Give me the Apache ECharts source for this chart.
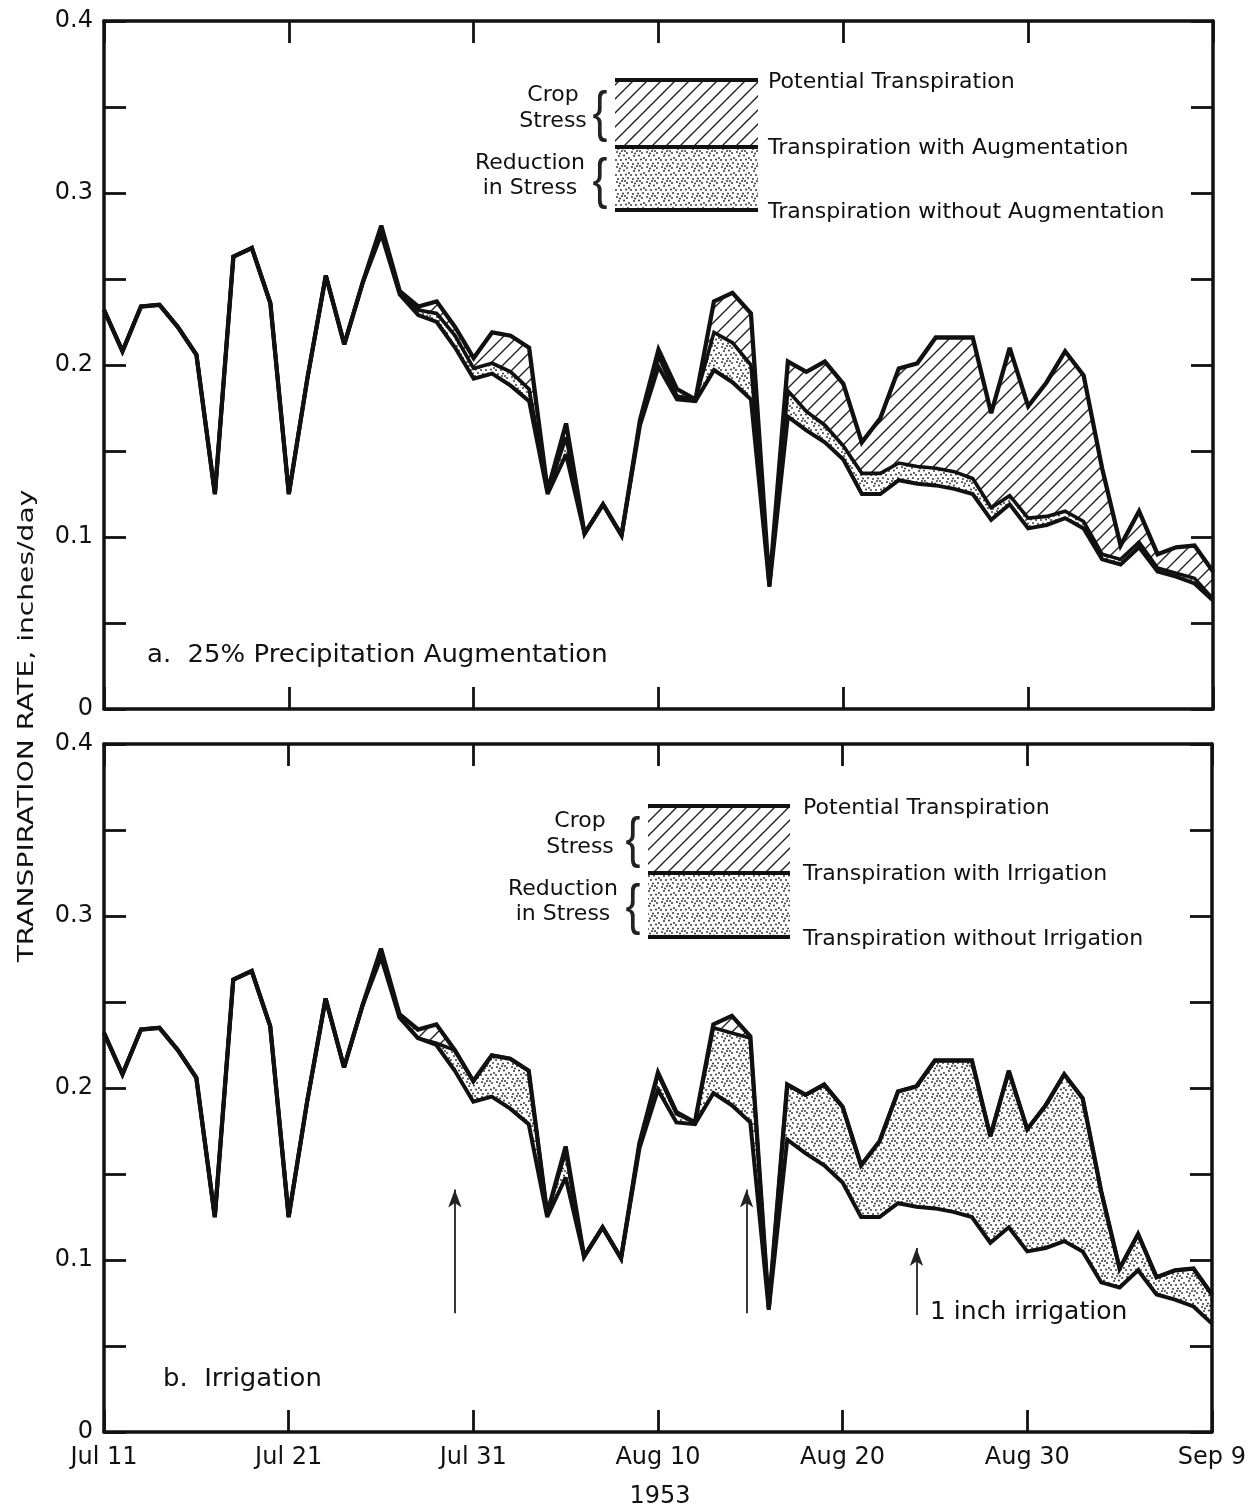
<!DOCTYPE html>
<html>
<head>
<meta charset="utf-8">
<script src="https://cdn.jsdelivr.net/npm/echarts@6/dist/echarts.min.js"></script>
<style>
html,body{margin:0;padding:0;background:#fff;}
#main{width:1249px;height:1511px;}
</style>
</head>
<body>
<div id="main"></div>
<script>
// day index 0 = Jul 11 ... 60 = Sep 9 (1953)
var tickLabels = ['Jul 11', 'Jul 21', 'Jul 31', 'Aug 10', 'Aug 20', 'Aug 30', 'Sep 9'];

var potential = [
  0.232, 0.208, 0.234, 0.235, 0.222, 0.206, 0.125, 0.263, 0.268, 0.236,
  0.125, 0.192, 0.252, 0.212, 0.248, 0.281, 0.243, 0.234, 0.237, 0.222,
  0.204, 0.219, 0.217, 0.210, 0.127, 0.166, 0.102, 0.119, 0.101, 0.168,
  0.209, 0.186, 0.180, 0.237, 0.242, 0.230, 0.072, 0.202, 0.196, 0.202,
  0.189, 0.155, 0.169, 0.198, 0.201, 0.216, 0.216, 0.216, 0.172, 0.210,
  0.176, 0.190, 0.208, 0.194, 0.140, 0.095, 0.115, 0.090, 0.094, 0.095,
  0.080
];
var withAug = [
  0.232, 0.208, 0.234, 0.235, 0.222, 0.206, 0.125, 0.263, 0.268, 0.236,
  0.125, 0.192, 0.252, 0.212, 0.248, 0.278, 0.242, 0.232, 0.230, 0.217,
  0.198, 0.201, 0.196, 0.186, 0.126, 0.158, 0.102, 0.119, 0.101, 0.167,
  0.205, 0.182, 0.180, 0.219, 0.213, 0.200, 0.072, 0.185, 0.173, 0.165,
  0.153, 0.137, 0.137, 0.143, 0.141, 0.140, 0.138, 0.134, 0.117, 0.124,
  0.111, 0.112, 0.115, 0.109, 0.090, 0.087, 0.097, 0.082, 0.079, 0.076,
  0.064
];
var withoutAug = [
  0.232, 0.208, 0.234, 0.235, 0.222, 0.206, 0.125, 0.263, 0.268, 0.236,
  0.125, 0.192, 0.252, 0.212, 0.248, 0.276, 0.241, 0.229, 0.225, 0.210,
  0.192, 0.195, 0.188, 0.179, 0.125, 0.148, 0.102, 0.119, 0.101, 0.165,
  0.199, 0.180, 0.179, 0.197, 0.190, 0.180, 0.071, 0.170, 0.162, 0.155,
  0.145, 0.125, 0.125, 0.133, 0.131, 0.130, 0.128, 0.125, 0.110, 0.119,
  0.105, 0.107, 0.111, 0.105, 0.087, 0.084, 0.094, 0.080, 0.077, 0.073,
  0.063
];
var withIrr = [
  0.232, 0.208, 0.234, 0.235, 0.222, 0.206, 0.125, 0.263, 0.268, 0.236,
  0.125, 0.192, 0.252, 0.212, 0.248, 0.278, 0.241, 0.229, 0.226, 0.222,
  0.204, 0.219, 0.217, 0.210, 0.127, 0.163, 0.102, 0.119, 0.101, 0.168,
  0.208, 0.185, 0.180, 0.235, 0.232, 0.229, 0.072, 0.202, 0.196, 0.202,
  0.189, 0.155, 0.169, 0.198, 0.201, 0.216, 0.216, 0.216, 0.172, 0.210,
  0.176, 0.190, 0.208, 0.194, 0.140, 0.095, 0.115, 0.090, 0.094, 0.095,
  0.080
];
// irrigation arrows: day index, arrow foot, arrow tip
var irrigationDays = [19, 34.8, 44];
var arrowFoot = [0.069, 0.069, 0.068];
var arrowTip = [0.141, 0.141, 0.107];

var FONT = 'DejaVu Sans';

function pairs(arr) {
  return arr.map(function (v, i) { return [i, v]; });
}

// fill patterns
function hatchPattern() {
  var c = document.createElement('canvas');
  var s = 14;
  c.width = s; c.height = s;
  var g = c.getContext('2d');
  g.fillStyle = '#fff';
  g.fillRect(0, 0, s, s);
  g.strokeStyle = '#222';
  g.lineWidth = 1.4;
  g.beginPath();
  g.moveTo(-2, s + 2); g.lineTo(s + 2, -2);
  g.moveTo(-2, 2); g.lineTo(2, -2);
  g.moveTo(s - 2, s + 2); g.lineTo(s + 2, s - 2);
  g.stroke();
  return c;
}
function stipplePattern() {
  var c = document.createElement('canvas');
  var s = 15;
  c.width = s; c.height = s;
  var g = c.getContext('2d');
  g.fillStyle = '#fff';
  g.fillRect(0, 0, s, s);
  g.fillStyle = '#2a2a2a';
  var dots = [[2, 2], [7, 1], [12, 3], [4, 6], [9, 5.5], [14, 8], [1, 10], [6, 10], [11, 9.5],
              [3, 14], [8, 13.5], [13, 13], [10, 1], [5, 3.5]];
  dots.forEach(function (d) {
    g.beginPath();
    g.arc(d[0], d[1], 0.95, 0, Math.PI * 2);
    g.fill();
  });
  return c;
}
var hatch = { image: hatchPattern(), repeat: 'repeat' };
var stipple = { image: stipplePattern(), repeat: 'repeat' };

var chart = echarts.init(document.getElementById('main'));

function xAxisFor(grid, pos, labels) {
  return {
    type: 'value', gridIndex: grid, position: pos, z: 10,
    min: 0, max: 60, interval: 10,
    axisLine: { show: true, onZero: false, lineStyle: { color: '#111', width: 3.5 } },
    axisTick: { show: true, inside: true, length: 22, lineStyle: { color: '#111', width: 2.8 } },
    axisLabel: {
      show: labels, margin: 14, color: '#111', fontSize: 24, fontFamily: FONT,
      formatter: function (v) { return tickLabels[Math.round(v / 10)] || ''; }
    },
    splitLine: { show: false }
  };
}
function yAxisFor(grid, pos, labels) {
  return {
    type: 'value', gridIndex: grid, position: pos, z: 10,
    min: 0, max: 0.4, interval: 0.05,
    axisLine: { show: true, onZero: false, lineStyle: { color: '#111', width: 3.5 } },
    axisTick: { show: true, inside: true, length: 22, lineStyle: { color: '#111', width: 2.8 } },
    axisLabel: {
      show: labels, margin: 11, color: '#111', fontSize: 24, fontFamily: FONT,
      formatter: function (v) {
        var r = Math.round(v * 100);
        if (r % 10 !== 0) return '';
        return r === 0 ? '0' : (r / 100).toFixed(1);
      }
    },
    splitLine: { show: false }
  };
}

// overlapping filled areas: hatch under the top line, stipple under the middle, white under the bottom
function areaSeries(xi, arr, fill, z) {
  return {
    type: 'line', xAxisIndex: xi, yAxisIndex: xi, data: pairs(arr), symbol: 'none', silent: true, z: z,
    lineStyle: { width: 0 }, areaStyle: { color: fill, opacity: 1, origin: 'start' }
  };
}
function blackLine(xi, arr, w) {
  return {
    type: 'line', xAxisIndex: xi, yAxisIndex: xi, data: pairs(arr), symbol: 'none', silent: true, z: 5,
    lineStyle: { color: '#111', width: w, join: 'miter', miterLimit: 3 }
  };
}

var arrowLines = irrigationDays.map(function (d, i) {
  return [{ coord: [d, arrowFoot[i]] }, { coord: [d, arrowTip[i]] }];
});

var series = [
  areaSeries(0, potential, hatch, 1),
  areaSeries(0, withAug, stipple, 2),
  areaSeries(0, withoutAug, '#fff', 3),
  blackLine(0, withoutAug, 4), blackLine(0, withAug, 3.6), blackLine(0, potential, 4.3),
  areaSeries(2, potential, hatch, 1),
  areaSeries(2, withIrr, stipple, 2),
  areaSeries(2, withoutAug, '#fff', 3),
  blackLine(2, withoutAug, 4), blackLine(2, withIrr, 3.6), blackLine(2, potential, 4.3)
];

series[series.length - 1].markLine = {
  silent: true, symbol: ['none', 'arrow'], symbolSize: [10, 18],
  label: { show: false },
  lineStyle: { color: '#222', width: 1.8, type: 'solid' },
  data: arrowLines
};

function txt(x, y, s, size, align, sx) {
  return {
    type: 'text', x: x, y: y, silent: true, z: 100, scaleX: sx || 1,
    style: { text: s, fill: '#111', font: size + 'px "' + FONT + '"', textAlign: align || 'left', textVerticalAlign: 'middle' }
  };
}
function brace(x, y) {
  return {
    type: 'text', x: x, y: y, silent: true, z: 100, scaleX: 0.8,
    style: { text: '{', fill: '#222', font: '56px "Liberation Sans"', textAlign: 'center', textVerticalAlign: 'middle' }
  };
}
function legendBlock(x0, x1, yTop, yMid, yBot, textX, labels, leftX1, leftX2) {
  var els = [
    { type: 'rect', silent: true, z: 100, shape: { x: x0, y: yTop, width: x1 - x0, height: yMid - yTop }, style: { fill: hatch } },
    { type: 'rect', silent: true, z: 100, shape: { x: x0, y: yMid, width: x1 - x0, height: yBot - yMid }, style: { fill: stipple } }
  ];
  [yTop, yMid, yBot].forEach(function (y) {
    els.push({ type: 'line', silent: true, z: 101, shape: { x1: x0, y1: y, x2: x1, y2: y }, style: { stroke: '#111', lineWidth: 4 } });
  });
  els.push(txt(textX, yTop + 3, labels[0], 21, 'left', 1.05));
  els.push(txt(textX, yMid + 2, labels[1], 21, 'left', 1.05));
  els.push(txt(textX, yBot + 3, labels[2], 21, 'left', 1.05));
  els.push(txt(leftX1, yTop + 15, 'Crop', 22, 'center'));
  els.push(txt(leftX1, yTop + 41, 'Stress', 22, 'center'));
  els.push(txt(leftX2, yMid + 16, 'Reduction', 22, 'center'));
  els.push(txt(leftX2, yMid + 41, 'in Stress', 22, 'center'));
  els.push(brace(x0 - 15, (yTop + yMid) / 2 + 1));
  els.push(brace(x0 - 15, (yMid + yBot) / 2 + 3));
  return els;
}

var graphics = []
  .concat(legendBlock(615, 758, 80, 147, 210, 768,
    ['Potential Transpiration', 'Transpiration with Augmentation', 'Transpiration without Augmentation'], 553, 530))
  .concat(legendBlock(648, 790, 806, 873, 937, 803,
    ['Potential Transpiration', 'Transpiration with Irrigation', 'Transpiration without Irrigation'], 580, 563))
  .concat([
    txt(147, 656, 'a.  25% Precipitation Augmentation', 24, 'left', 1.08),
    txt(163, 1380, 'b.  Irrigation', 24, 'left', 1.08),
    txt(930, 1312, '1 inch irrigation', 25),
    txt(660, 1497, '1953', 24, 'center'),
    {
      type: 'text', x: 28, y: 726, rotation: Math.PI / 2, scaleX: 1.34, silent: true, z: 100,
      style: { text: 'TRANSPIRATION RATE, inches/day', fill: '#111', font: '21px "' + FONT + '"', textAlign: 'center', textVerticalAlign: 'middle' }
    }
  ]);

chart.setOption({
  animation: false,
  backgroundColor: '#fff',
  grid: [
    { left: 104, top: 21, width: 1109, height: 688 },
    { left: 104, top: 744, width: 1109, height: 688 }
  ],
  xAxis: [xAxisFor(0, 'bottom', false), xAxisFor(0, 'top', false), xAxisFor(1, 'bottom', true), xAxisFor(1, 'top', false)],
  yAxis: [yAxisFor(0, 'left', true), yAxisFor(0, 'right', false), yAxisFor(1, 'left', true), yAxisFor(1, 'right', false)],
  series: series,
  graphic: graphics
});
</script>
</body>
</html>
